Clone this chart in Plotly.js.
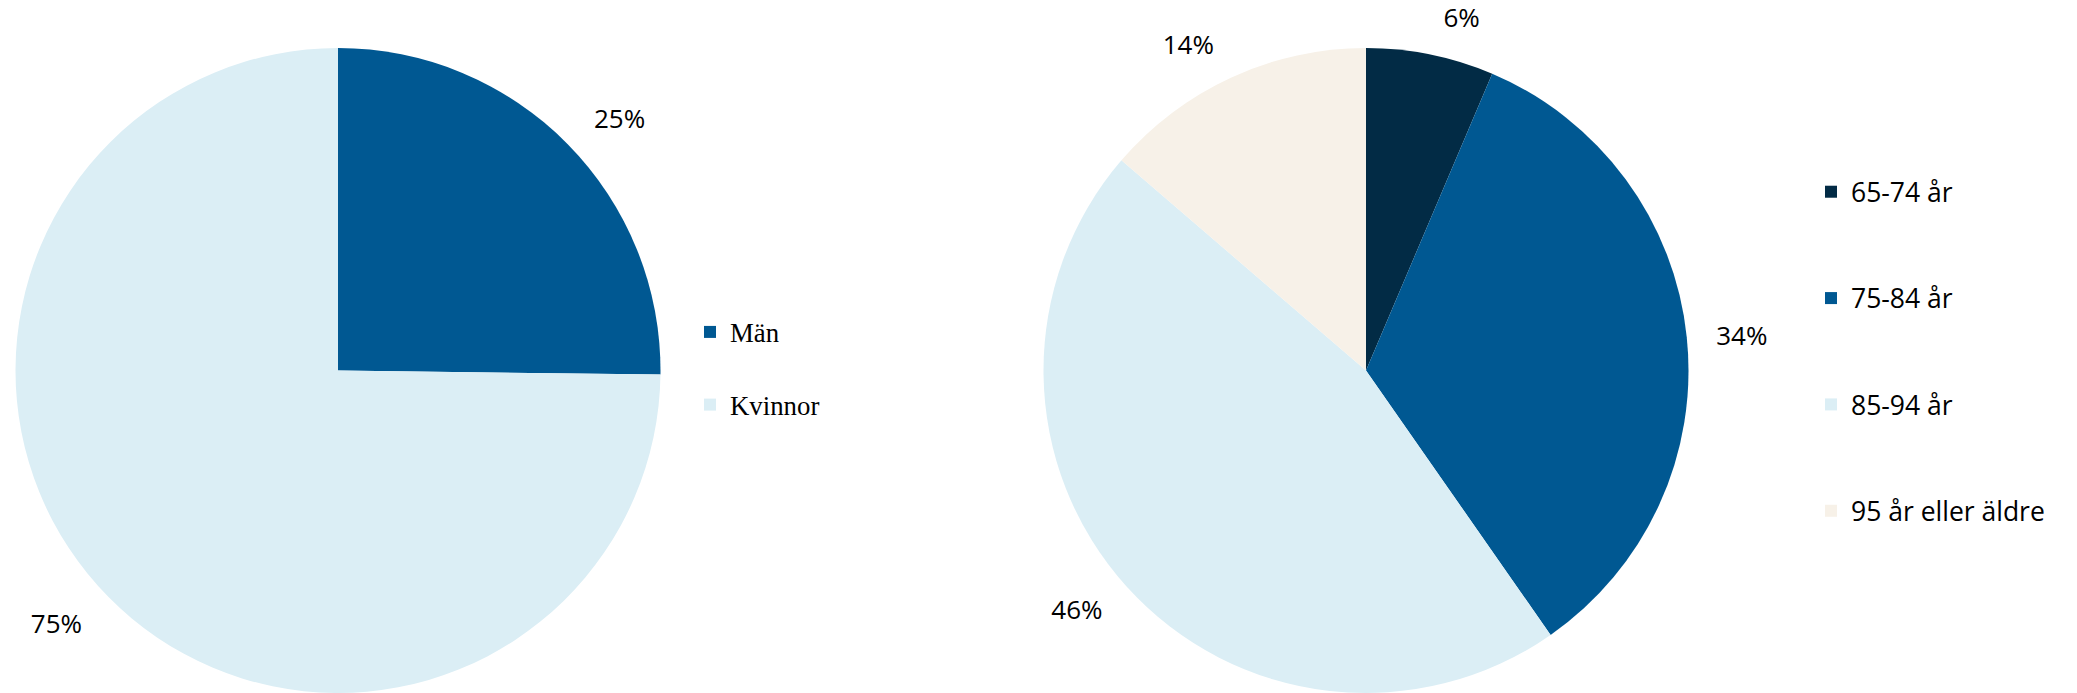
<!DOCTYPE html>
<html>
<head>
<meta charset="utf-8">
<script src="https://cdn.plot.ly/plotly-3.0.1.min.js"></script>
<style>
  html, body { margin: 0; background: #fff; overflow: hidden; }
  /* chart is shifted left a bit so the label ring of the left pie fits inside the paper */
  #chart { width: 2117px; height: 760px; margin-left: -40px; }
</style>
</head>
<body>
<div id="chart"></div>
<script>
// Kön
var konLabels = ["Män", "Kvinnor"];
var konValues = [25.2, 74.8];
var konColors = ["#005892", "#dbeef5"];

// Ålder
var alderLabels = ["65-74 år", "75-84 år", "85-94 år", "95 år eller äldre"];
var alderValues = [6.4, 33.9, 46.0, 13.7];
var alderColors = ["#022b45", "#005892", "#dbeef5", "#f7f1e8"];

var W = 2117, H = 760, OX = 40;
var pctFont = {family: "Open Sans, sans-serif", size: 26, color: "#000"};

// blank lines after each name give the legend its tall spacing
var pad = function(arr, n) {
  return arr.map(function(l) { return l + "<br>\u00a0".repeat(n); });
};

// domain for a pie of radius r centred at (cx, cy) in window pixels
function dom(cx, cy, r) {
  return {
    x: [(cx - r + OX) / W, (cx + r + OX) / W],
    y: [1 - (cy + r) / H, 1 - (cy - r) / H]
  };
}

function piePair(labels, values, colors, cx, rLabel, legendId, n) {
  var base = {
    type: "pie",
    values: values,
    sort: false,
    direction: "clockwise",
    rotation: 0,
    hoverinfo: "none"
  };
  var slices = Object.assign({}, base, {
    labels: pad(labels, n),
    marker: {colors: colors},
    textinfo: "none",
    domain: dom(cx, 370.5, 322.5),
    legend: legendId
  });
  // transparent copy, a little bigger, only carries the percent labels
  var text = Object.assign({}, base, {
    labels: labels,
    marker: {colors: colors.map(function() { return "rgba(0,0,0,0)"; })},
    textposition: "outside",
    texttemplate: "%{percent:.0%}",
    outsidetextfont: pctFont,
    domain: dom(cx, 370.5, rLabel),
    showlegend: false,
    legend: legendId
  });
  return [slices, text];
}

var data = piePair(konLabels, konValues, konColors, 338, 347, "legend", 1)
  .concat(piePair(alderLabels, alderValues, alderColors, 1366, 343, "legend2", 2));

var layout = {
  width: W,
  height: H,
  margin: {l: 0, r: 0, t: 0, b: 0},
  paper_bgcolor: "#fff",
  showlegend: true,
  legend: {
    x: (690 + OX) / W, xanchor: "left",
    y: 1 - 308 / H, yanchor: "top",
    valign: "top",
    font: {family: "Liberation Serif, serif", size: 26.8, color: "#000"}
  },
  legend2: {
    x: (1811 + OX) / W, xanchor: "left",
    y: 1 - 168 / H, yanchor: "top",
    valign: "top",
    font: {family: "Open Sans, sans-serif", size: 26.5, color: "#000"}
  }
};

Plotly.newPlot("chart", data, layout, {displayModeBar: false, staticPlot: true});
</script>
</body>
</html>
